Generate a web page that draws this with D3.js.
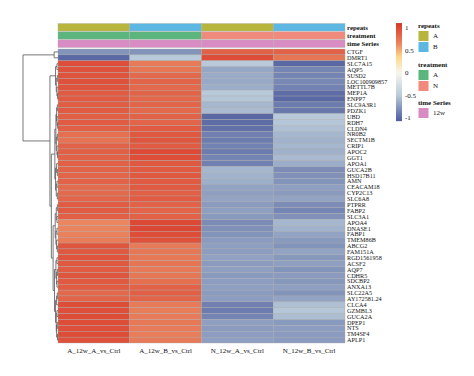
<!DOCTYPE html>
<html>
<head>
<meta charset="utf-8">
<script src="https://cdn.jsdelivr.net/npm/d3@7"></script>
<style>
  body { margin: 0; background: #fff; }
  svg { display: block; font-family: "Liberation Serif", "Times New Roman", serif; }
</style>
</head>
<body>
<svg id="chart" width="474" height="376"></svg>
<script>
const genes = ["CTGF", "DMRT1", "SLC7A15", "AQP5", "SUSD2", "LOC100909857", "METTL7B", "MEP1A", "ENPP7", "SLC9A3R1",
  "PDZK1", "UBD", "RDH7", "CLDN4", "NR0B2", "SECTM1B", "CRIP1", "APOC2", "GGT1", "APOA1",
  "GUCA2B", "HSD17B11", "AMN", "CEACAM18", "CYP2C13", "SLC6A8", "PTPRR", "FABP2", "SLC3A1", "APOA4",
  "DNASE1", "FABP1", "TMEM86B", "ABCG2", "FAM151A", "RGD1561958", "ACSF2", "AQP7", "CDHR5", "SDCBP2",
  "ANXA13", "SLC22A5", "AY172581.24", "CLCA4", "GZMBL3", "GUCA2A", "DPEP1", "NTS", "TM4SF4", "APLP1"];

const samples = ["A_12w_A_vs_Ctrl", "A_12w_B_vs_Ctrl", "N_12w_A_vs_Ctrl", "N_12w_B_vs_Ctrl"];

// scaled values per sample, one per gene (same order as genes)
const valA_A = [-0.78, -1.0, 0.97, 0.96, 0.95, 0.96, 0.94, 0.9, 0.9, 0.89,
  0.9, 0.88, 0.9, 0.88, 0.78, 0.76, 0.86, 0.88, 0.86, 0.87,
  0.85, 0.84, 0.86, 0.8, 0.82, 0.84, 0.9, 0.9, 0.88, 0.65,
  0.66, 0.68, 0.7, 0.93, 0.92, 0.94, 0.92, 0.9, 0.93, 0.91,
  0.9, 0.82, 0.84, 0.98, 0.97, 0.99, 0.98, 0.97, 0.99, 0.96];
const valA_B = [-0.78, -0.5, 0.72, 0.74, 0.82, 0.84, 0.82, 0.85, 0.83, 0.84,
  0.82, 0.86, 0.84, 0.9, 0.92, 0.93, 0.9, 1.0, 0.98, 0.92,
  0.9, 0.92, 0.9, 0.91, 0.88, 0.9, 0.86, 0.84, 0.86, 1.0,
  1.02, 0.98, 0.96, 0.72, 0.74, 0.73, 0.75, 0.72, 0.74, 0.78,
  0.86, 0.88, 0.85, 0.72, 0.7, 0.72, 0.73, 0.72, 0.7, 0.72];
const valN_A = [0.86, 0.98, -0.5, -0.68, -0.66, -0.67, -0.65, -0.5, -0.52, -0.6,
  -0.58, -1.0, -0.98, -0.96, -0.88, -0.9, -0.87, -0.9, -0.86, -0.88,
  -0.6, -0.62, -0.64, -0.7, -0.72, -0.7, -0.74, -0.72, -0.75, -0.82,
  -0.8, -0.78, -0.74, -0.72, -0.73, -0.71, -0.74, -0.72, -0.75, -0.73,
  -0.72, -0.74, -0.73, -0.88, -0.9, -0.86, -0.72, -0.74, -0.73, -0.72];
const valN_B = [0.86, 0.75, -1.0, -0.85, -0.86, -0.84, -0.87, -0.98, -1.0, -0.9,
  -0.92, -0.5, -0.52, -0.55, -0.6, -0.62, -0.6, -0.63, -0.58, -0.65,
  -0.82, -0.8, -0.78, -0.72, -0.74, -0.7, -0.82, -0.85, -0.8, -0.6,
  -0.62, -0.7, -0.75, -0.78, -0.7, -0.76, -0.72, -0.78, -0.74, -0.76,
  -0.72, -0.78, -0.7, -0.55, -0.52, -0.56, -0.75, -0.73, -0.74, -0.74];
const sampleValues = [valA_A, valA_B, valN_A, valN_B];

// column annotations
const annoNames = ["repeats", "treatment", "time Series"];
const repeats = ["A", "B", "A", "B"];
const treatment = ["A", "A", "N", "N"];
const timeSeries = ["12w", "12w", "12w", "12w"];
const annoValues = [repeats, treatment, timeSeries];
const repeatColors = { A: "#b8b53c", B: "#5cb8e2" };
const treatmentColors = { A: "#5cb57d", N: "#ef8a7d" };
const timeColors = { "12w": "#d88cc3" };
const annoColors = [repeatColors, treatmentColors, timeColors];

// colour key
const keyTicks = [1, 0.5, 0, -0.5, -1];
const keyDomain = [-1.07, 1.11];
const scaleStops = [-1.07, -1.0, -0.5, 0, 0.35, 0.65, 1.0, 1.11];
const scaleColors = ["#4f5c9c", "#5a69a4", "#b8cad9", "#f6f6ee", "#fbd98c", "#ea8660", "#dc4a36", "#d2382c"];

// row dendrogram: [height, left, right], leaves are gene indices
const rowTree =
[1.0,
  [0.11, 0, 1],
  [0.23,
    [0.07, [0.03, 2, 3], [0.05, [0.02, 4, 5], [0.03, 6, [0.01, 7, 8]]]],
    [0.19,
      [0.09,
        [0.06, [0.04, [0.02, 9, 10], [0.03, 11, [0.01, 12, 13]]], [0.05, [0.02, 14, 15], [0.03, 16, [0.015, 17, 18]]]],
        [0.07, [0.04, 19, [0.02, 20, 21]], [0.05, [0.03, 22, 23], [0.02, 24, 25]]]
      ],
      [0.14,
        [0.08, [0.05, [0.02, 26, 27], [0.03, 28, 29]], [0.06, [0.03, 30, 31], [0.04, 32, [0.02, 33, 34]]]],
        [0.1, [0.06, [0.03, 35, 36], [0.04, [0.02, 37, 38], [0.03, 39, 40]]],
              [0.07, [0.04, [0.02, 41, 42], 43], [0.05, [0.03, 44, 45], [0.04, [0.02, 46, 47], [0.015, 48, 49]]]]]
      ]
    ]
  ]
];

const svg = d3.select("#chart");

const color = d3.scaleLinear().domain(scaleStops).range(scaleColors).clamp(true);

const x = d3.scaleBand().domain(samples).range([58, 345]);
const y = d3.scaleBand().domain(d3.range(genes.length)).range([49, 343]);
const ya = d3.scaleBand().domain(annoNames).range([23.5, 47.5]).paddingInner(0.08);

// heatmap cells
const cells = [];
samples.forEach((s, j) => genes.forEach((g, i) => cells.push({ s, i, v: sampleValues[j][i] })));

svg.append("g")
  .selectAll("rect")
  .data(cells)
  .enter()
  .append("rect")
  .attr("x", d => x(d.s))
  .attr("y", d => y(d.i))
  .attr("width", x.bandwidth())
  .attr("height", y.bandwidth())
  .attr("fill", d => color(d.v))
  .attr("stroke", "#a8a8a8")
  .attr("stroke-width", 0.35);

// annotation bars
annoNames.forEach((name, k) => {
  svg.append("g")
    .selectAll("rect")
    .data(samples)
    .enter()
    .append("rect")
    .attr("x", d => x(d))
    .attr("y", ya(name))
    .attr("width", x.bandwidth())
    .attr("height", ya.bandwidth())
    .attr("fill", (d, j) => annoColors[k][annoValues[k][j]])
    .attr("stroke", "#b0b0b0")
    .attr("stroke-width", 0.4);

  svg.append("text")
    .attr("x", 347)
    .attr("y", ya(name) + ya.bandwidth() / 2)
    .attr("dy", "0.35em")
    .text(name)
    .style("font-size", "6.8px")
    .style("font-weight", "bold")
    .style("fill", "#111");
});

// row labels
svg.append("g")
  .selectAll("text")
  .data(genes)
  .enter()
  .append("text")
  .attr("x", 347)
  .attr("y", (d, i) => y(i) + y.bandwidth() / 2)
  .attr("dy", "0.35em")
  .text(d => d)
  .style("font-size", "6.2px")
  .style("fill", "#111");

// column labels
svg.append("g")
  .selectAll("text")
  .data(samples)
  .enter()
  .append("text")
  .attr("x", d => x(d) + x.bandwidth() / 2)
  .attr("y", 353)
  .attr("text-anchor", "middle")
  .text(d => d)
  .style("font-size", "7px")
  .style("fill", "#111");

// row dendrogram
const hx = d3.scaleLinear().domain([0, 1]).range([58, 23]);
const root = d3.hierarchy(rowTree, d => Array.isArray(d) ? d.slice(1) : null);
root.eachAfter(n => {
  if (!n.children) {
    n.py = y(n.data) + y.bandwidth() / 2;
    n.px = hx(0);
  } else {
    n.py = d3.mean(n.children, c => c.py);
    n.px = hx(n.data[0]);
  }
});

const dendro = svg.append("g")
  .attr("fill", "none")
  .attr("stroke", "#555")
  .attr("stroke-width", 0.8);

root.descendants().filter(n => n.children).forEach(n => {
  const [a, b] = n.children;
  dendro.append("path")
    .attr("d", `M${a.px},${a.py}H${n.px}V${b.py}H${b.px}`);
});

// colour key
const keyY = d3.scaleLinear().domain([-1, 1]).range([118, 28]);
const defs = svg.append("defs");
const grad = defs.append("linearGradient")
  .attr("id", "key-gradient")
  .attr("x1", "0%").attr("x2", "0%")
  .attr("y1", "100%").attr("y2", "0%");

grad.selectAll("stop")
  .data(scaleStops)
  .enter()
  .append("stop")
  .attr("offset", d => ((d - keyDomain[0]) / (keyDomain[1] - keyDomain[0]) * 100) + "%")
  .attr("stop-color", d => color(d));

svg.append("rect")
  .attr("x", 396)
  .attr("y", keyY(keyDomain[1]))
  .attr("width", 6)
  .attr("height", keyY(keyDomain[0]) - keyY(keyDomain[1]))
  .style("fill", "url(#key-gradient)");

svg.append("g")
  .selectAll("text")
  .data(keyTicks)
  .enter()
  .append("text")
  .attr("x", 405)
  .attr("y", d => keyY(d))
  .attr("dy", "0.35em")
  .text(d => d)
  .style("font-size", "7px")
  .style("fill", "#111");

// annotation legends
const legends = [
  { title: "repeats", keys: ["A", "B"], colors: repeatColors, top: 26 },
  { title: "treatment", keys: ["A", "N"], colors: treatmentColors, top: 65 },
  { title: "time Series", keys: ["12w"], colors: timeColors, top: 103 }
];

legends.forEach(lg => {
  const g = svg.append("g").attr("transform", `translate(418, ${lg.top})`);
  g.append("text")
    .attr("x", 0)
    .attr("y", 0)
    .attr("dy", "0.35em")
    .text(lg.title)
    .style("font-size", "7px")
    .style("font-weight", "bold")
    .style("fill", "#111");

  lg.keys.forEach((k, i) => {
    g.append("rect")
      .attr("x", 0.5)
      .attr("y", 5 + i * 11)
      .attr("width", 10)
      .attr("height", 10)
      .attr("fill", lg.colors[k]);
    g.append("text")
      .attr("x", 15)
      .attr("y", 10 + i * 11)
      .attr("dy", "0.35em")
      .text(k)
      .style("font-size", "7px")
      .style("fill", "#111");
  });
});
</script>
</body>
</html>
